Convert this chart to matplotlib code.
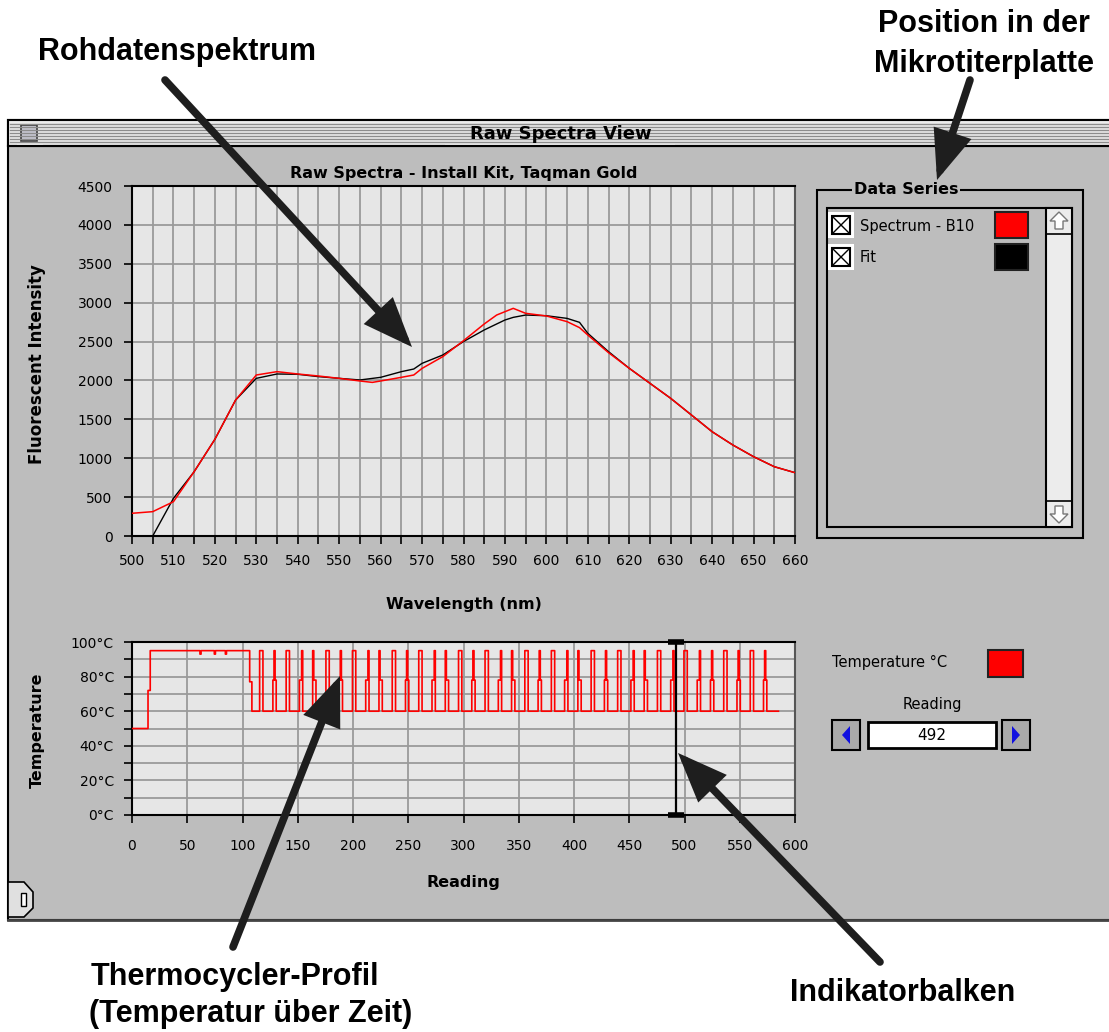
import matplotlib
matplotlib.use("Agg")
import matplotlib.pyplot as plt
from matplotlib.patches import Rectangle, Polygon, FancyArrowPatch
import numpy as np

W, H = 1109, 1032

# --- spectrum panel data ---
wavelength_raw = [500, 505, 510, 515, 520, 525, 530, 535, 540, 545, 550, 555, 558, 560, 565,
                  568, 570, 575, 580, 585, 588, 590, 592, 595, 600, 605, 608, 610, 615, 620,
                  625, 630, 635, 640, 645, 650, 655, 660]
spectrum_b10 = [292, 313, 441, 827, 1243, 1748, 2070, 2113, 2083, 2057, 2027, 1993, 1975, 1993, 2040,
                2070, 2155, 2306, 2511, 2726, 2841, 2884, 2927, 2863, 2829, 2756, 2679, 2584, 2357, 2156,
                1963, 1770, 1556, 1341, 1170, 1020, 891, 814]
wavelength_fit = [505, 510, 515, 520, 525, 530, 535, 540, 545, 550, 555, 560, 565, 568, 570,
                  575, 580, 585, 588, 590, 592, 595, 600, 605, 608, 610, 615, 620, 625, 630,
                  635, 640, 645, 650, 655, 660]
fit_values = [0, 484, 827, 1243, 1748, 2027, 2083, 2079, 2049, 2027, 2006, 2040, 2113, 2147, 2220,
              2327, 2500, 2649, 2726, 2777, 2811, 2841, 2832, 2798, 2747, 2606, 2370, 2156, 1963, 1770,
              1556, 1341, 1170, 1020, 891, 814]

# --- thermocycler profile data ---
# initial hold: (temperature, number of readings)
hold_runs = [(50, 15), (72, 2), (95, 45), (93, 1), (95, 12), (93, 1), (95, 9), (93, 1), (95, 21), (77, 2)]
base_temp = 60
last_reading = 585
cycle_peaks = [116, 128, 140, 152, 164, 176, 188, 200, 212, 224, 236, 248, 260, 272, 284,
               296, 308, 320, 332, 344, 356, 368, 380, 392, 404, 416, 428, 440, 452, 464,
               476, 488, 500, 512, 524, 536, 548, 560, 572]
cycle_kinds = "wtwsdwtwsdwtwsdwtwsdwtwsdwtwsdwswstwtwt"
peak_shapes = {"w": [95, 95, 95], "s": [78, 78, 95], "d": [95, 78, 78], "t": [78, 95, 78]}
indicator_reading = 492

temps = []
for t, n in hold_runs:
    temps += [t] * n
temps += [base_temp] * (last_reading + 1 - len(temps))
for p, k in zip(cycle_peaks, cycle_kinds):
    for j, v in enumerate(peak_shapes[k]):
        temps[p + j] = v
readings = np.arange(len(temps))

WIN = "#bdbdbd"
PLOTBG = "#e6e6e6"
GRID = "#9a9a9a"
UI = "DejaVu Sans"
ANNO = "Liberation Sans"

fig = plt.figure(figsize=(W / 100, H / 100), dpi=100)
fig.patch.set_facecolor("white")

# background: the mac window
bg = fig.add_axes([0, 0, 1, 1], zorder=0)
bg.set_xlim(0, W)
bg.set_ylim(H, 0)
bg.axis("off")

bg.add_patch(Rectangle((8, 120), W, 800, facecolor=WIN, edgecolor="black", lw=1.5))
bg.add_patch(Rectangle((8, 120), W, 26, facecolor="#ececec", edgecolor="black", lw=1.5))
for y in range(124, 144, 3):
    bg.plot([10, W], [y, y], color="#8c8c8c", lw=1)
bg.add_patch(Rectangle((445, 122), 230, 23, facecolor="#ececec", edgecolor="none"))
bg.add_patch(Rectangle((17, 122), 26, 23, facecolor="#ececec", edgecolor="none"))
bg.add_patch(Rectangle((21, 125), 16, 16, facecolor="#c8c8d4", edgecolor="#333", lw=1.2))
bg.text(561, 134, "Raw Spectra View", ha="center", va="center", fontsize=13,
        fontweight="bold", family=UI)
bg.plot([8, W], [146, 146], color="black", lw=1.5)
bg.plot([8, W], [920, 920], color="#444", lw=2)

# grow box bottom left
bg.add_patch(Polygon([(8, 882), (24, 882), (33, 892), (33, 908), (24, 917), (8, 917)],
                     closed=True, facecolor="#e0e0e0", edgecolor="black", lw=1.2))
bg.add_patch(Rectangle((21, 893), 5, 13, facecolor="white", edgecolor="black", lw=1))

# Data Series box
bg.add_patch(Rectangle((817, 190), 266, 348, facecolor="none", edgecolor="black", lw=1.5))
bg.text(906, 190, "Data Series", ha="center", va="center", fontsize=11.5, fontweight="bold",
        family=UI, bbox=dict(facecolor=WIN, edgecolor="none", pad=1))
bg.add_patch(Rectangle((827, 208), 245, 319, facecolor=WIN, edgecolor="black", lw=1.5))
bg.add_patch(Rectangle((1046, 208), 26, 319, facecolor="#ececec", edgecolor="black", lw=1.5))
bg.plot([1046, 1072], [234, 234], color="black", lw=1.2)
bg.plot([1046, 1072], [501, 501], color="black", lw=1.2)
bg.add_patch(Polygon([(1059, 212), (1068, 221), (1063, 221), (1063, 229), (1055, 229), (1055, 221),
                      (1050, 221)], closed=True, facecolor="white", edgecolor="#777", lw=1))
bg.add_patch(Polygon([(1059, 523), (1068, 514), (1063, 514), (1063, 506), (1055, 506), (1055, 514),
                      (1050, 514)], closed=True, facecolor="white", edgecolor="#777", lw=1))

series_names = ["Spectrum - B10", "Fit"]
series_colors = ["#ff0000", "#000000"]
for i, (name, col) in enumerate(zip(series_names, series_colors)):
    y0 = 212 + 32 * i
    bg.add_patch(Rectangle((828, y0), 26, 26, facecolor="white", edgecolor="none"))
    bg.add_patch(Rectangle((832, y0 + 4), 18, 18, facecolor="white", edgecolor="black", lw=1.5))
    bg.plot([832, 850], [y0 + 4, y0 + 22], color="black", lw=1)
    bg.plot([832, 850], [y0 + 22, y0 + 4], color="black", lw=1)
    bg.text(860, y0 + 14, name, ha="left", va="center", fontsize=10.5, family=UI)
    bg.add_patch(Rectangle((995, y0), 33, 26, facecolor=col, edgecolor="#222", lw=1.5))

# temperature legend + reading control
bg.text(832, 662, "Temperature \u00b0C", ha="left", va="center", fontsize=10.5, family=UI)
bg.add_patch(Rectangle((988, 650), 35, 27, facecolor="#ff0000", edgecolor="#222", lw=1.5))
bg.text(932, 705, "Reading", ha="center", va="center", fontsize=10.5, family=UI)
for bx, d in [(832, 1), (1002, -1)]:
    bg.add_patch(Rectangle((bx, 720), 28, 30, facecolor="#a9a9a9", edgecolor="black", lw=1.5))
    cx = bx + 14
    bg.add_patch(Polygon([(cx - 4 * d, 735), (cx + 4 * d, 726), (cx + 4 * d, 744)], closed=True,
                         facecolor="#1010e0", edgecolor="none"))
bg.add_patch(Rectangle((868, 722), 128, 26, facecolor="white", edgecolor="black", lw=2))
bg.text(932, 736, str(indicator_reading), ha="center", va="center", fontsize=11, family=UI)

# --- spectrum chart ---
ax1 = fig.add_axes([132 / W, 1 - 536 / H, 663 / W, 350 / H], zorder=1)
ax1.set_facecolor(PLOTBG)
ax1.plot(wavelength_fit, fit_values, color="black", lw=1.0, zorder=3)
ax1.plot(wavelength_raw, spectrum_b10, color="#ff0000", lw=1.1, zorder=4)
ax1.set_xlim(500, 660)
ax1.set_ylim(0, 4500)
ax1.set_xticks(np.arange(500, 661, 10))
ax1.set_xticks(np.arange(505, 660, 10), minor=True)
ax1.set_yticks(np.arange(0, 4501, 500))
ax1.grid(which="both", color=GRID, lw=1.3)
ax1.set_axisbelow(True)
ax1.tick_params(axis="x", which="both", direction="out", length=6, width=1.2, pad=7, labelsize=10)
ax1.tick_params(axis="y", direction="out", length=6, width=1.2, pad=8, labelsize=10)
for lab in ax1.get_xticklabels() + ax1.get_yticklabels():
    lab.set_family(UI)
for s in ax1.spines.values():
    s.set_linewidth(1.5)
ax1.spines["right"].set_color("#555")
ax1.set_title("Raw Spectra - Install Kit, Taqman Gold", fontsize=11.5, fontweight="bold",
              family=UI, pad=6)
ax1.set_xlabel("Wavelength (nm)", fontsize=11.5, fontweight="bold", family=UI, va="center")
ax1.xaxis.set_label_coords(0.5, -(604 - 536) / 350)
ax1.set_ylabel("Fluorescent Intensity", fontsize=12, fontweight="bold", family=UI, va="center")
ax1.yaxis.set_label_coords((37 - 132) / 663, 0.49)

# --- temperature chart ---
ax2 = fig.add_axes([132 / W, 1 - 815 / H, 663 / W, 173 / H], zorder=1)
ax2.set_facecolor(PLOTBG)
ax2.plot(readings, temps, color="#ff0000", lw=1.2, drawstyle="steps-mid", zorder=3)
ax2.set_xlim(0, 600)
ax2.set_ylim(0, 100)
ax2.set_xticks(np.arange(0, 601, 50))
ax2.set_yticks(np.arange(0, 101, 20))
ax2.set_yticks(np.arange(10, 100, 20), minor=True)
ax2.set_yticklabels([f"{v}\u00b0C" for v in range(0, 101, 20)])
ax2.grid(which="both", color=GRID, lw=1.3)
ax2.set_axisbelow(True)
ax2.tick_params(axis="x", direction="out", length=6, width=1.2, pad=11, labelsize=10)
ax2.tick_params(axis="y", which="both", direction="out", length=6, width=1.2, pad=7, labelsize=10)
for lab in ax2.get_xticklabels() + ax2.get_yticklabels():
    lab.set_family(UI)
for s in ax2.spines.values():
    s.set_linewidth(1.5)
ax2.spines["right"].set_color("#555")
ax2.set_xlabel("Reading", fontsize=11.5, fontweight="bold", family=UI, va="center")
ax2.xaxis.set_label_coords(0.5, -(883 - 815) / 173)
ax2.set_ylabel("Temperature", fontsize=11.5, fontweight="bold", family=UI, va="center")
ax2.yaxis.set_label_coords((37 - 132) / 663, 0.49)
# indicator bar
ax2.plot([indicator_reading, indicator_reading], [0, 100], color="black", lw=1.6, zorder=5,
         clip_on=False)
ax2.plot([indicator_reading] * 2, [100, 0], ls="none", marker="_", ms=11, mew=4, color="black",
         zorder=6, clip_on=False)

# --- callout overlay ---
ov = fig.add_axes([0, 0, 1, 1], zorder=5)
ov.set_xlim(0, W)
ov.set_ylim(H, 0)
ov.axis("off")
ov.patch.set_alpha(0)

arrows = [((165, 80), (412, 347)), ((970, 80), (937, 180)),
          ((233, 947), (340, 676)), ((880, 962), (678, 753))]
for start, tip in arrows:
    ov.add_patch(FancyArrowPatch(start, tip, arrowstyle="-|>,head_length=0.8,head_width=0.32",
                                 mutation_scale=32, lw=5.5, color="#1e1e1e",
                                 shrinkA=0, shrinkB=0, joinstyle="miter"))

akw = dict(fontsize=22, fontweight="bold", family=ANNO, va="baseline")
ov.text(38, 60, "Rohdatenspektrum", ha="left", **akw)
ov.text(984, 32, "Position in der", ha="center", **akw)
ov.text(984, 72, "Mikrotiterplatte", ha="center", **akw)
ov.text(91, 985, "Thermocycler-Profil", ha="left", **akw)
ov.text(89, 1022, "(Temperatur \u00fcber Zeit)", ha="left", **akw)
ov.text(790, 1001, "Indikatorbalken", ha="left", **akw)

fig.savefig("out.png", dpi=100)
